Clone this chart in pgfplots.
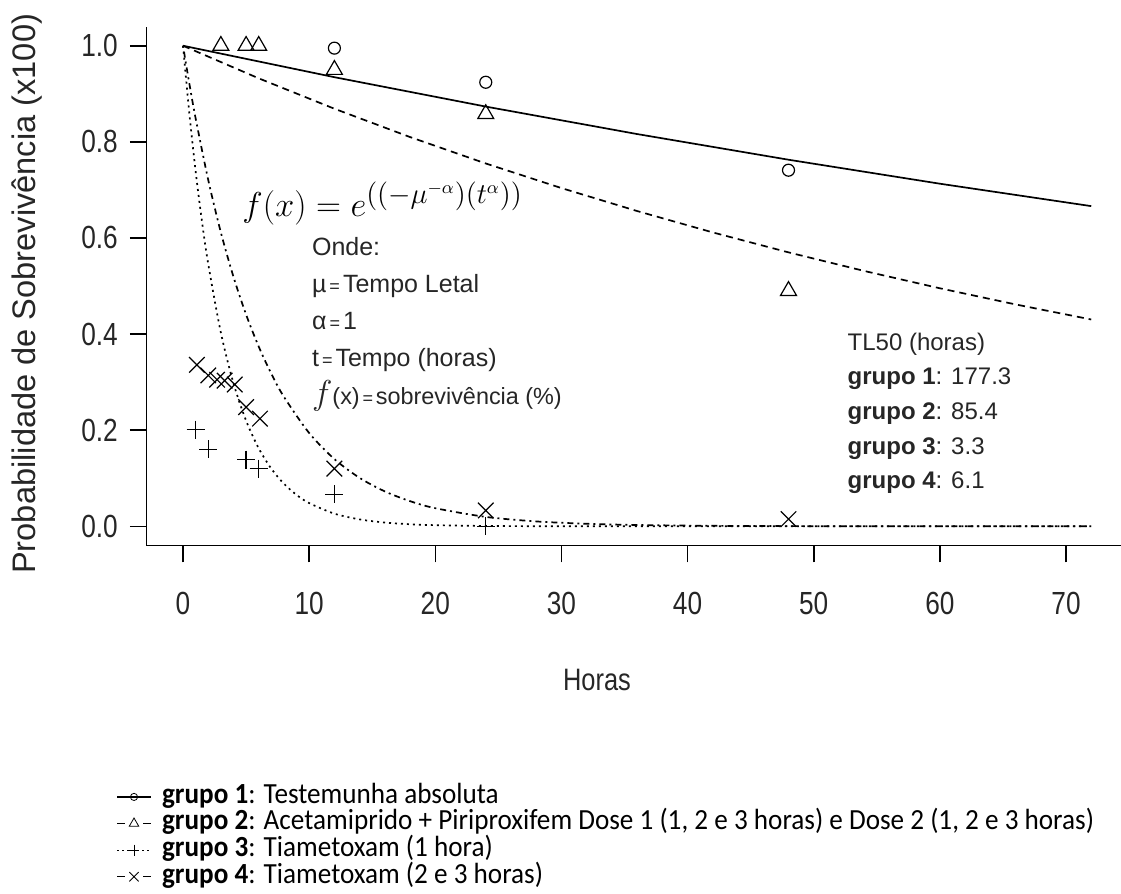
\documentclass[border=0pt]{standalone}
\usepackage{fontspec}
\setmainfont{Liberation Sans}
\newfontfamily\tickfont[FakeStretch=0.82]{Liberation Sans}
\newfontfamily\legfont[FakeStretch=0.93]{Carlito}
\usepackage{pgfplots}
\pgfplotsset{compat=1.18}
\pgfplotsset{
  legA/.style={legend image code/.code={\draw[black, line width=0.6pt] (0pt,0pt) -- (17pt,0pt); \draw[##1, mark options={scale=0.6}] plot coordinates {(8.5pt,0pt)};}},
  legB/.style={legend image code/.code={\draw[black, line width=0.6pt] (0pt,0pt) -- (4pt,0pt) (13pt,0pt) -- (17pt,0pt); \draw[##1, mark options={scale=0.6}] plot coordinates {(8.5pt,0pt)};}},
  legC/.style={legend image code/.code={\draw[black, line width=0.6pt, dash pattern=on 1pt off 1.5pt] (0pt,0pt) -- (17pt,0pt); \draw[##1, mark options={scale=0.6}] plot coordinates {(8.5pt,0pt)};}},
}
\newcommand{\eq}{\hspace{0.12em}{\fontsize{9}{9}\selectfont =}\hspace{0.12em}}
\begin{document}
\begin{tikzpicture}
\begin{axis}[
  scale only axis, width=487.15pt, height=259.5pt,
  xmin=-2.88, xmax=74.36, ymin=-0.04, ymax=1.04,
  axis lines*=left,
  axis line style={line width=0.8pt},
  tick style={black, line width=0.8pt},
  tick align=outside, major tick length=8.4pt,
  xtick={0,10,20,30,40,50,60,70},
  ytick={0,0.2,0.4,0.6,0.8,1.0},
  yticklabel style={/pgf/number format/.cd, fixed, fixed zerofill, precision=1, /tikz/.cd, xshift=-2.5pt},
  xticklabel style={yshift=-11.5pt},
  /pgf/number format/assume math mode=true,
  ticklabel style={font=\tickfont\fontsize{16}{16}\selectfont, text=black!85},
  xlabel={Horas},
  xlabel style={at={(axis description cs:0.4622,-0.2584)}, anchor=center, font=\tickfont\fontsize{15.5}{15.5}\selectfont, text=black!85},
  ylabel={Probabilidade de Sobrevivência (x100)},
  ylabel style={at={(axis description cs:-0.1229,0.485)}, anchor=center, font=\fontsize{16.3}{16.3}\selectfont, text=black!85},
  legend style={draw=none, fill=none, at={(axis description cs:-0.0315,-0.458)}, anchor=north west,
    font=\legfont\fontsize{14.6}{14.6}\selectfont, inner sep=0pt, row sep=0pt,
    nodes={inner sep=0.25pt, text height=9.6pt, text depth=3.2pt},
    /tikz/every odd column/.append style={column sep=5pt}},
  legend cell align=left,
]
% fitted curves
\addplot[forget plot, black, line width=0.85pt] coordinates {
(0,1) (12,0.93456) (24,0.87340) (36,0.81623) (48,0.76282) (60,0.71290) (72,0.66625)};
\addplot[forget plot, black, line width=0.85pt, dash pattern=on 3.5pt off 2.5pt] coordinates {
(0,1) (6,0.93216) (12,0.86891) (18,0.80996) (24,0.75500) (30,0.70378) (36,0.65603) (42,0.61152) (48,0.57002) (54,0.53135) (60,0.49530) (66,0.46169) (72,0.43037)};
\addplot[forget plot, black, line width=0.85pt, dash pattern=on 1pt off 2pt, smooth] coordinates {
(0,1) (0.5,0.85940) (1,0.73857) (1.5,0.63473) (2,0.54549) (3,0.40288) (4,0.29756) (5,0.21977) (6,0.16231) (7,0.11988) (8,0.08854) (9,0.06539) (10,0.04830) (12,0.02634) (14,0.01437) (16,0.00784) (18,0.00428) (20,0.00233) (24,0.00069) (30,0.00011) (36,0.00002) (48,0) (72,0)};
\addplot[forget plot, black, line width=0.85pt, dash pattern=on 1pt off 2pt on 3pt off 2pt, smooth] coordinates {
(0,1) (0.5,0.92130) (1,0.84880) (2,0.72046) (3,0.61153) (4,0.51906) (5,0.44058) (6,0.37397) (7,0.31743) (8,0.26942) (10,0.19411) (12,0.13985) (14,0.10076) (16,0.07259) (18,0.05230) (20,0.03768) (24,0.01956) (28,0.01015) (32,0.00527) (36,0.00274) (42,0.00102) (48,0.00038) (60,0.00005) (72,0.00001)};
% observed points
\addplot[only marks, black, mark=o, mark size=3pt, mark options={line width=0.6pt}, legA]
  coordinates {(12,0.995) (24,0.924) (48,0.741)};
\addlegendentry{\textbf{grupo 1}: Testemunha absoluta}
\addplot[only marks, black, mark=triangle, mark size=4.6pt, mark options={line width=0.6pt}, legB]
  coordinates {(3,1.0) (5,1.0) (6,1.0) (12,0.95) (24,0.858) (48,0.49)};
\addlegendentry{\textbf{grupo 2}: Acetamiprido + Piriproxifem Dose 1 (1, 2 e 3 horas) e Dose 2 (1, 2 e 3 horas)}
\addplot[only marks, black, mark=+, mark size=4.5pt, mark options={line width=0.6pt}, legC]
  coordinates {(1,0.201) (2,0.16) (5,0.139) (6,0.12) (12,0.067) (24,0.0)};
\addlegendentry{\textbf{grupo 3}: Tiametoxam (1 hora)}
\addplot[only marks, black, mark=x, mark size=5.5pt, mark options={line width=0.6pt}, legB]
  coordinates {(1.1,0.336) (2.0,0.314) (2.7,0.305) (3.3,0.303) (4.1,0.295) (5.0,0.248) (6.1,0.224) (12,0.12) (24,0.033) (48,0.015)};
\addlegendentry{\textbf{grupo 4}: Tiametoxam (2 e 3 horas)}
% annotations
\node[anchor=base west, inner sep=0pt, font=\fontsize{19}{19}\selectfont] at (axis cs:4.68,0.645) {$f(x)=e^{((-\mu^{-\alpha})(t^{\alpha}))}$};
\node[anchor=base west, inner sep=0pt, font=\fontsize{12.5}{12.5}\selectfont, text=black!85] at (axis cs:10.2,0.5640) {Onde:};
\node[anchor=base west, inner sep=0pt, font=\fontsize{12.5}{12.5}\selectfont, text=black!85] at (axis cs:10.2,0.4869) {µ\eq Tempo Letal};
\node[anchor=base west, inner sep=0pt, font=\fontsize{12.5}{12.5}\selectfont, text=black!85] at (axis cs:10.2,0.4098) {α\eq 1};
\node[anchor=base west, inner sep=0pt, font=\fontsize{12.5}{12.5}\selectfont, text=black!85] at (axis cs:10.2,0.3327) {t\eq Tempo (horas)};
\node[anchor=base west, inner sep=0pt, font=\fontsize{11.7}{11.7}\selectfont, text=black!85] at (axis cs:10.2,0.2535) {{\fontsize{17}{17}\selectfont$f$}(x)\eq sobrevivência (\%)};
\node[anchor=base west, inner sep=0pt, font=\fontsize{12}{12}\selectfont, text=black!85] at (axis cs:52.66,0.3660) {TL50 (horas)};
\node[anchor=base west, inner sep=0pt, font=\fontsize{12}{12}\selectfont, text=black!85] at (axis cs:52.66,0.2942) {\textbf{grupo 1}: 177.3};
\node[anchor=base west, inner sep=0pt, font=\fontsize{12}{12}\selectfont, text=black!85] at (axis cs:52.66,0.2223) {\textbf{grupo 2}: 85.4};
\node[anchor=base west, inner sep=0pt, font=\fontsize{12}{12}\selectfont, text=black!85] at (axis cs:52.66,0.1504) {\textbf{grupo 3}: 3.3};
\node[anchor=base west, inner sep=0pt, font=\fontsize{12}{12}\selectfont, text=black!85] at (axis cs:52.66,0.0785) {\textbf{grupo 4}: 6.1};
\coordinate (BL) at (axis cs:-14.51,-0.765);
\coordinate (TR) at (axis cs:74.36,1.0952);
\end{axis}
\pgfresetboundingbox
\path[use as bounding box] (BL) rectangle (TR);
\end{tikzpicture}
\end{document}
